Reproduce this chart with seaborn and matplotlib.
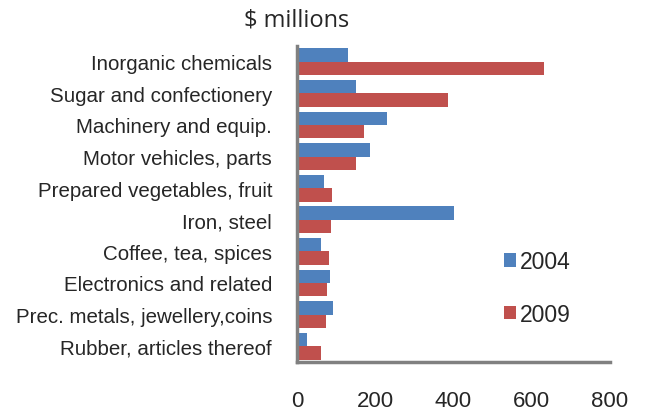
import matplotlib
matplotlib.use("Agg")
import matplotlib.pyplot as plt
import seaborn as sns
import pandas as pd

categories = ["Inorganic chemicals", "Sugar and confectionery", "Machinery and equip.",
              "Motor vehicles, parts", "Prepared vegetables, fruit", "Iron, steel",
              "Coffee, tea, spices", "Electronics and related",
              "Prec. metals, jewellery,coins", "Rubber, articles thereof"]
values_2004 = [130, 152, 229, 187, 70, 401, 61, 84, 91, 26]
values_2009 = [632, 387, 170, 150, 90, 87, 83, 76, 73, 61]
years = ["2004", "2009"]
colors = ["#4F81BD", "#C0504D"]
xticks = [0, 200, 400, 600, 800]

df = pd.DataFrame({
    "category": categories * 2,
    "value": values_2004 + values_2009,
    "year": [years[0]] * len(categories) + [years[1]] * len(categories),
})

sns.set_style("white")
plt.rcParams["font.family"] = ["Liberation Sans", "DejaVu Sans"]

fig = plt.figure(figsize=(6.46, 4.14), dpi=100)
ax = fig.add_axes([297/646, 51/414, 313/646, 316/414])

sns.barplot(data=df, y="category", x="value", hue="year", order=categories,
            hue_order=years, palette=colors, orient="h", width=0.85, gap=0,
            ax=ax, edgecolor="none", saturation=1)

ax.set_xlim(0, 800)
ax.set_xticks(xticks)
ax.set_xticklabels([str(t) for t in xticks], fontsize=16)
ax.tick_params(axis="x", length=0, pad=20)
ax.tick_params(axis="y", length=0, pad=18, labelsize=14.8)
ax.set_xlabel("")
ax.set_ylabel("")
for s in ["top", "right"]:
    ax.spines[s].set_visible(False)
for s in ["left", "bottom"]:
    ax.spines[s].set_color("#808080")
    ax.spines[s].set_linewidth(2.5)

leg = ax.legend(loc="center left", bbox_to_anchor=(493/646, (414-289)/414),
                bbox_transform=fig.transFigure, frameon=False, fontsize=16.5,
                handlelength=0.52, handleheight=0.52, handletextpad=0.15,
                labelspacing=1.3, borderpad=0)

fig.text(297/646, 1 - 20/414, "$ millions", ha="center", va="center",
         fontsize=17, family=["Open Sans", "DejaVu Sans"])

fig.savefig("out.png", dpi=100)
